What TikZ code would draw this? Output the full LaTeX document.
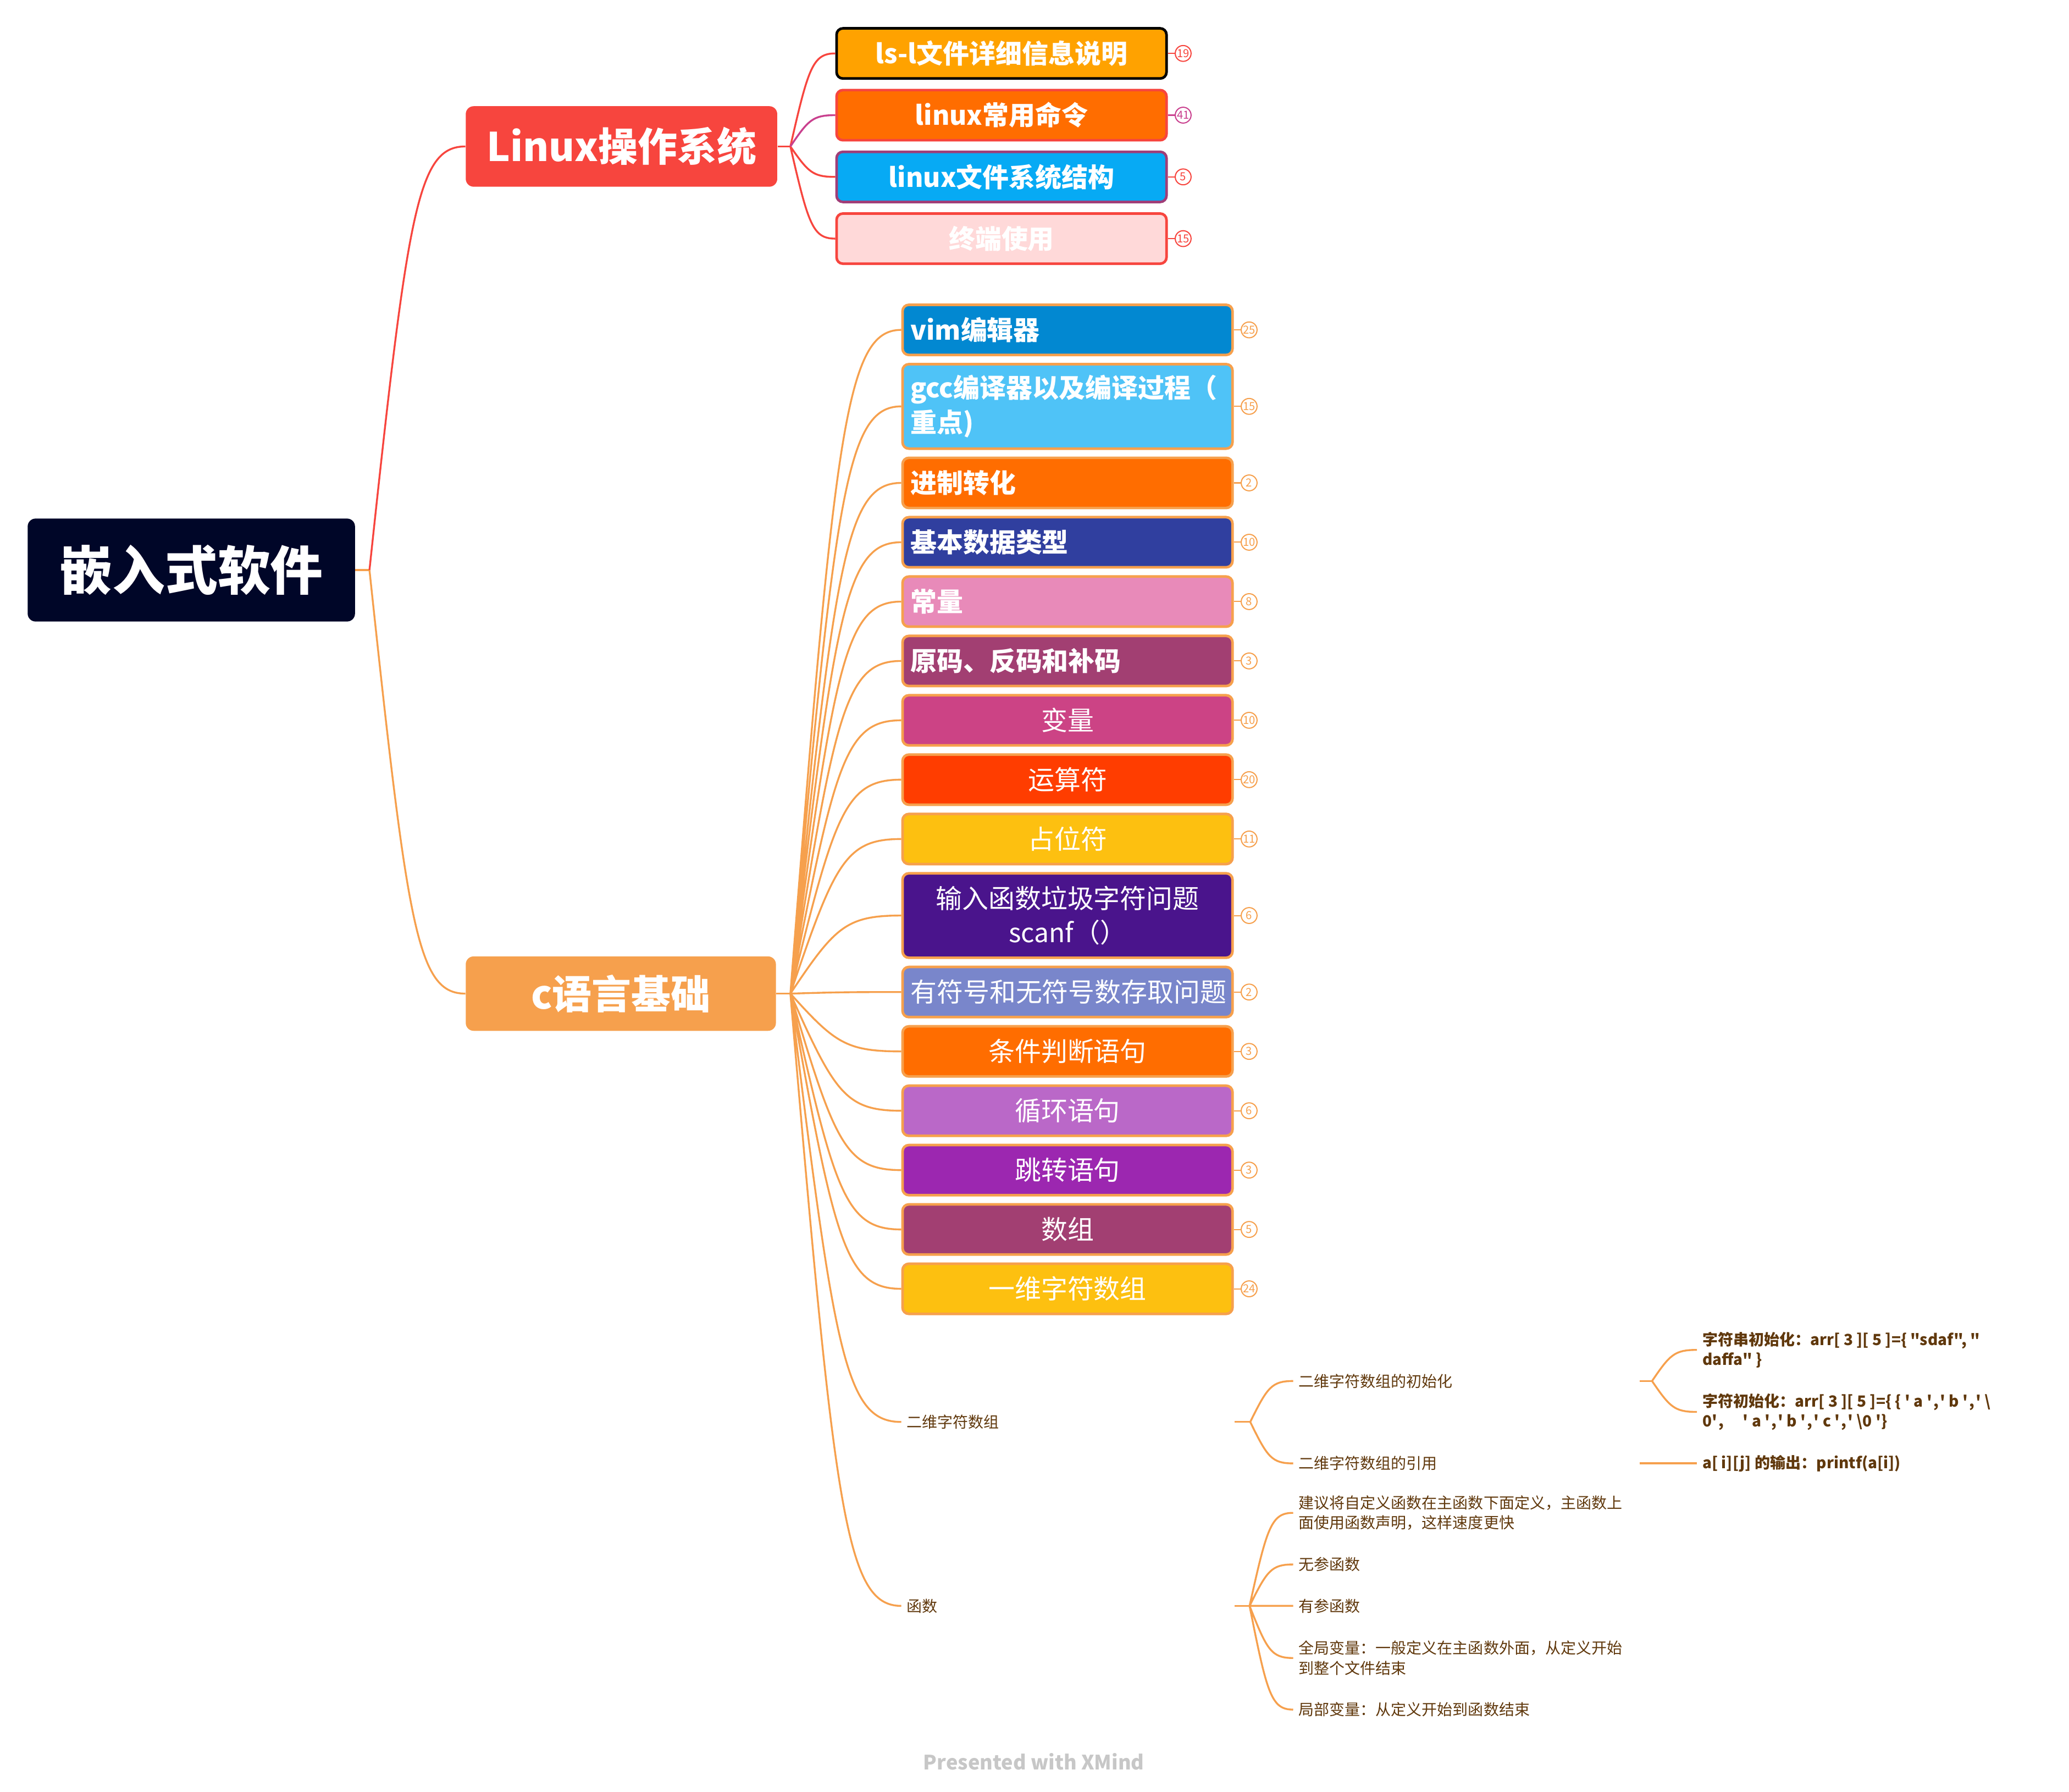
\documentclass[tikz,border=0pt]{standalone}
\usepackage{fontspec}
\newfontfamily\notosc{Noto Sans CJK SC}
\usetikzlibrary{positioning,calc}
\definecolor{rootnavy}{RGB}{0,6,40}
\definecolor{linuxred}{RGB}{247,69,62}
\definecolor{corange}{RGB}{246,160,77}
\definecolor{lsorange}{RGB}{255,162,0}
\definecolor{deeporange}{RGB}{255,109,0}
\definecolor{skyblue}{RGB}{7,170,244}
\definecolor{plum}{RGB}{160,62,120}
\definecolor{palepink}{RGB}{255,217,217}
\definecolor{magentaline}{RGB}{201,64,142}
\definecolor{vimblue}{RGB}{2,136,209}
\definecolor{lightblue}{RGB}{79,195,247}
\definecolor{indigo}{RGB}{48,63,159}
\definecolor{rosepink}{RGB}{232,138,185}
\definecolor{wine}{RGB}{162,63,114}
\definecolor{raspberry}{RGB}{204,67,133}
\definecolor{redorange}{RGB}{255,61,0}
\definecolor{amber}{RGB}{253,192,16}
\definecolor{deeppurple}{RGB}{74,20,140}
\definecolor{periwinkle}{RGB}{121,134,203}
\definecolor{orchid}{RGB}{186,104,200}
\definecolor{violetpurple}{RGB}{156,39,176}
\definecolor{notebrown}{RGB}{96,56,12}

\tikzset{
  branch/.style={to path={let \p1=(\tikztostart), \p2=(\tikztotarget) in
    .. controls ({\x1+0.4*(\x2-\x1)},{\y1+0.85*(\y2-\y1)}) and ({\x1+0.5*(\x2-\x1)},\y2) .. (\tikztotarget)}}
}

\begin{document}
\begin{tikzpicture}[x=0.025cm, y=-0.025cm, every node/.style={font=\notosc},
    mainbox/.style={rounded corners=0.15cm, text=white, inner sep=0pt, font=\notosc\bfseries\fontsize{21.3}{24}\selectfont},
    topic/.style={draw=#1, line width=1.4pt, rounded corners=0.12cm, minimum height=0.95cm, text width=5.95cm, inner xsep=0.15cm, inner ysep=0pt, text=white, align=center, font=\notosc\fontsize{14.2}{18.5}\selectfont},
    heavy/.style={font=\notosc\bfseries\fontsize{14.2}{18.5}\selectfont},
    leftbold/.style={heavy, align=left},
    badge/.style={circle, draw=#1, text=#1, line width=0.6pt, minimum size=0.3cm, inner sep=0pt, font=\notosc\fontsize{6}{6.5}\selectfont},
    note/.style={text=notebrown, inner xsep=0.1cm, inner ysep=0pt, align=left, font=\notosc\fontsize{8.3}{10.7}\selectfont},
    notebold/.style={note, font=\notosc\bfseries\fontsize{8.3}{10.7}\selectfont},
    linkline/.style={draw=#1, line width=1pt}]
    \path[use as bounding box, fill=white] (0,0) rectangle (1568,1358);

    % main topics
    \node[mainbox, fill=rootnavy, minimum width=6.2cm, minimum height=1.95cm, font=\notosc\bfseries\fontsize{28.4}{32}\selectfont] (root) at (145,432) {嵌入式软件};
    \node[mainbox, fill=linuxred, minimum width=5.9cm, minimum height=1.525cm] (linux) at (471,111) {Linux操作系统};
    \node[mainbox, fill=corange, minimum width=5.875cm, minimum height=1.41cm] (clang) at (470.5,753) {c语言基础};
    \coordinate (rootj) at (280,432);
    \coordinate (linuxj) at (599,111);
    \coordinate (clangj) at (599,753);

    % Linux
    \node[topic=black, fill=lsorange, heavy, anchor=west] (lsl) at (633,40.5) {ls-l文件详细信息说明};
    \node[topic=linuxred, fill=deeporange, heavy, below=0.17cm of lsl] (mingling) {linux常用命令};
    \node[topic=plum, fill=skyblue, heavy, below=0.17cm of mingling] (wenjian) {linux文件系统结构};
    \node[topic=linuxred, fill=palepink, heavy, below=0.17cm of wenjian] (zhongduan) {终端使用};
    \node[badge=linuxred, right=0.13cm of lsl] (lsl-n) {19};
    \node[badge=magentaline, right=0.13cm of mingling] (mingling-n) {41};
    \node[badge=linuxred, right=0.13cm of wenjian] (wenjian-n) {5};
    \node[badge=linuxred, right=0.13cm of zhongduan] (zhongduan-n) {15};

    % c
    \node[topic=corange, fill=vimblue, leftbold, anchor=west] (vim) at (683,250) {vim编辑器};
    \node[topic=corange, fill=lightblue, leftbold, minimum height=1.6cm, below=0.125cm of vim] (gcc) {gcc编译器以及编译过程（\\重点)};
    \node[topic=corange, fill=deeporange, leftbold, below=0.125cm of gcc] (jinzhi) {进制转化};
    \node[topic=corange, fill=indigo, leftbold, below=0.125cm of jinzhi] (shuju) {基本数据类型};
    \node[topic=corange, fill=rosepink, leftbold, below=0.125cm of shuju] (changliang) {常量};
    \node[topic=corange, fill=wine, leftbold, below=0.125cm of changliang] (yuanma) {原码、反码和补码};
    \node[topic=corange, fill=raspberry, below=0.125cm of yuanma] (bianliang) {变量};
    \node[topic=corange, fill=redorange, below=0.125cm of bianliang] (yunsuan) {运算符};
    \node[topic=corange, fill=amber, below=0.125cm of yunsuan] (zhanwei) {占位符};
    \node[topic=corange, fill=deeppurple, minimum height=1.6cm, below=0.125cm of zhanwei] (shuru) {输入函数垃圾字符问题\\scanf（）};
    \node[topic=corange, fill=periwinkle, below=0.125cm of shuru] (fuhao) {有符号和无符号数存取问题};
    \node[topic=corange, fill=deeporange, below=0.125cm of fuhao] (tiaojian) {条件判断语句};
    \node[topic=corange, fill=orchid, below=0.125cm of tiaojian] (xunhuan) {循环语句};
    \node[topic=corange, fill=violetpurple, below=0.125cm of xunhuan] (tiaozhuan) {跳转语句};
    \node[topic=corange, fill=wine, below=0.125cm of tiaozhuan] (shuzu) {数组};
    \node[topic=corange, fill=amber, below=0.125cm of shuzu] (yiwei) {一维字符数组};
    \node[badge=corange, right=0.13cm of vim] (vim-n) {25};
    \node[badge=corange, right=0.13cm of gcc] (gcc-n) {15};
    \node[badge=corange, right=0.13cm of jinzhi] (jinzhi-n) {2};
    \node[badge=corange, right=0.13cm of shuju] (shuju-n) {10};
    \node[badge=corange, right=0.13cm of changliang] (changliang-n) {8};
    \node[badge=corange, right=0.13cm of yuanma] (yuanma-n) {3};
    \node[badge=corange, right=0.13cm of bianliang] (bianliang-n) {10};
    \node[badge=corange, right=0.13cm of yunsuan] (yunsuan-n) {20};
    \node[badge=corange, right=0.13cm of zhanwei] (zhanwei-n) {11};
    \node[badge=corange, right=0.13cm of shuru] (shuru-n) {6};
    \node[badge=corange, right=0.13cm of fuhao] (fuhao-n) {2};
    \node[badge=corange, right=0.13cm of tiaojian] (tiaojian-n) {3};
    \node[badge=corange, right=0.13cm of xunhuan] (xunhuan-n) {6};
    \node[badge=corange, right=0.13cm of tiaozhuan] (tiaozhuan-n) {3};
    \node[badge=corange, right=0.13cm of shuzu] (shuzu-n) {5};
    \node[badge=corange, right=0.13cm of yiwei] (yiwei-n) {24};

    % 二维字符数组, 函数
    \node[note, text width=6.1cm, anchor=west] (erwei) at (683,1077.6) {二维字符数组};
    \node[note, text width=6.1cm, anchor=west] (hanshu) at (683,1217) {函数};
    \coordinate (erweij) at (947.5,1077.6);
    \coordinate (hanshuj) at (947,1217);
    \node[note, text width=6.35cm, anchor=west] (chushihua) at (980,1046.6) {二维字符数组的初始化};
    \node[note, text width=6.35cm, anchor=west] (yinyong) at (980,1109) {二维字符数组的引用};
    \coordinate (chushihuaj) at (1252,1046.6);
    \node[notebold, anchor=west] (zifuchuan) at (1286,1023) {字符串初始化：arr[ 3 ][ 5 ]=\{ "sdaf", "\\daffa" \}};
    \node[notebold, anchor=west] (zifu) at (1286,1070) {字符初始化：arr[ 3 ][ 5 ]=\{ \{ ' a '\kern.08em,\kern.08em' b '\kern.08em,\kern.08em' \textbackslash\\0'\kern.08em,\quad\ ' a '\kern.08em,\kern.08em' b '\kern.08em,\kern.08em' c '\kern.08em,\kern.08em' \textbackslash 0 '\}};
    \node[notebold, anchor=west] (shuchu) at (1286,1109) {a[ i][j] 的输出：printf(a[i])};
    \node[note, anchor=west] (jianyi) at (980,1146.5) {建议将自定义函数在主函数下面定义，主函数上\\面使用函数声明，这样速度更快};
    \node[note, anchor=west] (wucan) at (980,1185.6) {无参函数};
    \node[note, anchor=west] (youcan) at (980,1217) {有参函数};
    \node[note, anchor=west] (quanju) at (980,1256.5) {全局变量：一般定义在主函数外面，从定义开始\\到整个文件结束};
    \node[note, anchor=west] (jubu) at (980,1295.6) {局部变量：从定义开始到函数结束};

    \node[text=black!22, font=\notosc\bfseries\fontsize{10.7}{12}\selectfont] (credit) at (783.5,1335) {Presented with XMind};

    % connectors
    \draw[linkline=corange] (root) -- (rootj);
    \draw[linkline=linuxred, branch] (rootj) to (linux.west);
    \draw[linkline=corange, branch] (rootj) to (clang.west);
    \draw[linkline=linuxred] (linux) -- (linuxj);
    \draw[linkline=linuxred, branch] (linuxj) to (lsl.west) (linuxj) to (wenjian.west) (linuxj) to (zhongduan.west);
    \draw[linkline=magentaline, branch] (linuxj) to (mingling.west);
    \draw[linkline=corange] (clang) -- (clangj);
    \draw[linkline=corange, branch] (clangj) to (vim.west) (clangj) to (gcc.west) (clangj) to (jinzhi.west)
      (clangj) to (shuju.west) (clangj) to (changliang.west) (clangj) to (yuanma.west) (clangj) to (bianliang.west)
      (clangj) to (yunsuan.west) (clangj) to (zhanwei.west) (clangj) to (shuru.west) (clangj) to (fuhao.west)
      (clangj) to (tiaojian.west) (clangj) to (xunhuan.west) (clangj) to (tiaozhuan.west) (clangj) to (shuzu.west)
      (clangj) to (yiwei.west) (clangj) to (erwei.west) (clangj) to (hanshu.west);
    \draw[linkline=corange] (erwei) -- (erweij) (hanshu) -- (hanshuj) (chushihua) -- (chushihuaj) (yinyong) -- (shuchu);
    \draw[linkline=corange, branch] (erweij) to (chushihua.west) (erweij) to (yinyong.west)
      (chushihuaj) to (zifuchuan.west) (chushihuaj) to (zifu.west)
      (hanshuj) to (jianyi.west) (hanshuj) to (wucan.west) (hanshuj) to (youcan.west) (hanshuj) to (quanju.west) (hanshuj) to (jubu.west);
    \draw[linuxred, line width=0.6pt] (lsl) -- (lsl-n) (wenjian) -- (wenjian-n) (zhongduan) -- (zhongduan-n);
    \draw[magentaline, line width=0.6pt] (mingling) -- (mingling-n);
    \draw[corange, line width=0.6pt] (vim) -- (vim-n) (gcc) -- (gcc-n) (jinzhi) -- (jinzhi-n) (shuju) -- (shuju-n)
      (changliang) -- (changliang-n) (yuanma) -- (yuanma-n) (bianliang) -- (bianliang-n) (yunsuan) -- (yunsuan-n)
      (zhanwei) -- (zhanwei-n) (shuru) -- (shuru-n) (fuhao) -- (fuhao-n) (tiaojian) -- (tiaojian-n)
      (xunhuan) -- (xunhuan-n) (tiaozhuan) -- (tiaozhuan-n) (shuzu) -- (shuzu-n) (yiwei) -- (yiwei-n);
\end{tikzpicture}
\end{document}
